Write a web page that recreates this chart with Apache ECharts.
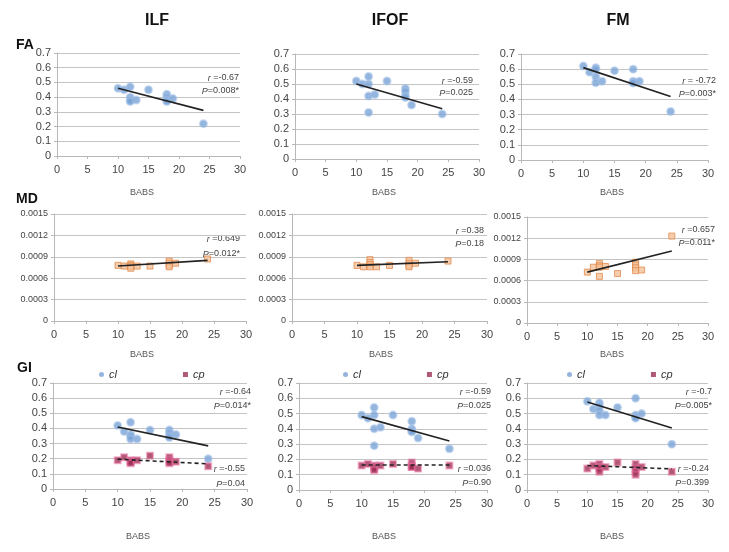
<!DOCTYPE html>
<html>
<head>
<meta charset="utf-8">
<script src="https://cdn.jsdelivr.net/npm/echarts@6/dist/echarts.min.js"></script>
<style>
  html, body { margin: 0; padding: 0; background: #fff; }
  #main { width: 729px; height: 552px; }
</style>
</head>
<body>
<div id="main"></div>
<script>
// BABS score of each subject (same order in every panel)
const babs = [10, 11, 12, 12, 12, 12, 13, 15, 18, 18, 18, 18, 19, 24];

// FA
const faILF  = [0.46, 0.45, 0.47, 0.40, 0.38, 0.37, 0.38, 0.45, 0.42, 0.40, 0.38, 0.37, 0.39, 0.22];
const faIFOF = [0.52, 0.50, 0.55, 0.50, 0.42, 0.31, 0.43, 0.52, 0.47, 0.45, 0.42, 0.41, 0.36, 0.30];
const faFM   = [0.62, 0.58, 0.61, 0.60, 0.55, 0.51, 0.52, 0.59, 0.60, 0.52, 0.51, 0.51, 0.52, 0.32];
// MD
const mdILF  = [0.00078, 0.00077, 0.00080, 0.00078, 0.00076, 0.00074, 0.00077, 0.00077, 0.00084, 0.00081, 0.00078, 0.00076, 0.00081, 0.00087];
const mdIFOF = [0.00078, 0.00076, 0.00086, 0.00082, 0.00079, 0.00076, 0.00076, 0.00078, 0.00085, 0.00081, 0.00078, 0.00076, 0.00081, 0.00084];
const mdFM   = [0.00072, 0.00079, 0.00084, 0.00081, 0.00079, 0.00066, 0.00080, 0.00070, 0.00086, 0.00082, 0.00078, 0.00074, 0.00075, 0.00123];
// GI (cl / cp)
const giILFcl  = [0.42, 0.38, 0.44, 0.36, 0.35, 0.33, 0.33, 0.39, 0.39, 0.37, 0.35, 0.34, 0.36, 0.20];
const giILFcp  = [0.19, 0.21, 0.19, 0.18, 0.18, 0.17, 0.19, 0.22, 0.21, 0.19, 0.18, 0.17, 0.18, 0.15];
const giIFOFcl = [0.49, 0.47, 0.54, 0.49, 0.40, 0.29, 0.41, 0.49, 0.45, 0.40, 0.39, 0.38, 0.34, 0.27];
const giIFOFcp = [0.16, 0.17, 0.16, 0.15, 0.14, 0.13, 0.16, 0.17, 0.18, 0.16, 0.15, 0.15, 0.14, 0.16];
const giFMcl   = [0.58, 0.53, 0.57, 0.55, 0.52, 0.49, 0.49, 0.54, 0.60, 0.49, 0.48, 0.47, 0.50, 0.30];
const giFMcp   = [0.14, 0.16, 0.17, 0.15, 0.14, 0.12, 0.15, 0.18, 0.17, 0.14, 0.12, 0.10, 0.15, 0.12];

// trend lines, [[x0, y0], [x1, y1]]
const fitFaILF  = [[10, 0.46], [24, 0.31]];
const fitFaIFOF = [[10, 0.50], [24, 0.335]];
const fitFaFM   = [[10, 0.61], [24, 0.42]];
const fitMdILF  = [[10, 0.00077], [24, 0.00085]];
const fitMdIFOF = [[10, 0.00078], [24, 0.00083]];
const fitMdFM   = [[10, 0.00072], [24, 0.00102]];
const fitGiILFcl  = [[10, 0.41], [24, 0.285]];
const fitGiILFcp  = [[10, 0.197], [24, 0.166]];
const fitGiIFOFcl = [[10, 0.48], [24, 0.32]];
const fitGiIFOFcp = [[10, 0.164], [24, 0.164]];
const fitGiFMcl   = [[10, 0.575], [24, 0.405]];
const fitGiFMcp   = [[10, 0.16], [24, 0.138]];

// r / P annotations
const statsFA = [['-0.67', '0.008*'], ['-0.59', '0.025'], [' -0.72', '0.003*']];
const statsMD = [['0.649', '0.012*'], ['0.38', '0.18'], ['0.657', '0.011*']];
const statsGIcl = [['-0.64', '0.014*'], ['-0.59', '0.025'], ['-0.7', '0.005*']];
const statsGIcp = [['-0.55', '0.04'], ['0.036', '0.90'], ['-0.24', '0.399']];

const colHeads = ['ILF', 'IFOF', 'FM'];
const rowHeads = ['FA', 'MD', 'GI'];

const chart = echarts.init(document.getElementById('main'));

const FONT = 'Liberation Sans';
const styleCl = { symbol: 'circle', symbolSize: 7, itemStyle: { color: '#78a3d6', borderColor: 'rgba(160,190,230,0.7)', borderWidth: 2 } };
const styleMd = { symbol: 'rect', symbolSize: 6, itemStyle: { color: '#f3c29c', borderColor: '#e48b4c', borderWidth: 1 } };
const styleCp = { symbol: 'rect', symbolSize: 6, itemStyle: { color: '#9c2f52', borderColor: 'rgba(230,110,160,0.65)', borderWidth: 2 } };

function zip(ys) { return babs.map((x, i) => [x, ys[i]]); }

function fmtY(v) { return v === 0 ? '0' : String(+v.toFixed(4)); }

const grids = [], xAxes = [], yAxes = [], series = [], graphics = [];

// plot boxes: left, top, right, bottom (px)
const boxes = [
  [57, 53, 240, 156], [295, 54, 479, 159], [521, 54, 708, 160],
  [54, 214, 246, 321], [292, 214, 487, 321], [527, 217, 708, 323],
  [53, 383, 247, 489], [299, 383, 487, 490], [527, 383, 708, 490]
];

function addPanel(idx, yMax, yInt, groups) {
  const b = boxes[idx];
  grids.push({ left: b[0], top: b[1], width: b[2] - b[0], height: b[3] - b[1], containLabel: false });
  xAxes.push({
    gridIndex: idx, type: 'value', min: 0, max: 30, interval: 5,
    axisLine: { lineStyle: { color: '#b8b8b8' } },
    axisTick: { show: true, length: 3, lineStyle: { color: '#b8b8b8' } },
    splitLine: { show: false },
    axisLabel: { color: '#444', fontFamily: FONT, fontSize: 11, margin: 8 }
  });
  yAxes.push({
    gridIndex: idx, type: 'value', min: 0, max: yMax, interval: yInt,
    axisLine: { show: true, lineStyle: { color: '#b8b8b8' } },
    axisTick: { show: true, length: 3, lineStyle: { color: '#b8b8b8' } },
    splitLine: { show: true, lineStyle: { color: '#c4c4c4', width: 1 } },
    axisLabel: { color: '#444', fontFamily: FONT, fontSize: yMax < 0.01 ? 9 : 11, margin: 6, formatter: fmtY }
  });
  groups.forEach(g => {
    series.push(Object.assign({
      type: 'scatter', name: g.name, xAxisIndex: idx, yAxisIndex: idx, data: zip(g.ys), z: 3
    }, g.style));
    series.push({
      type: 'line', xAxisIndex: idx, yAxisIndex: idx, data: g.fit, showSymbol: false, symbol: 'none',
      lineStyle: { color: '#222', width: 1.6, type: g.dashed ? [4, 3] : 'solid' }, z: 4, silent: true
    });
  });
}

addPanel(0, 0.7, 0.1, [{ name: 'fa', ys: faILF, fit: fitFaILF, style: styleCl }]);
addPanel(1, 0.7, 0.1, [{ name: 'fa', ys: faIFOF, fit: fitFaIFOF, style: styleCl }]);
addPanel(2, 0.7, 0.1, [{ name: 'fa', ys: faFM, fit: fitFaFM, style: styleCl }]);
addPanel(3, 0.0015, 0.0003, [{ name: 'md', ys: mdILF, fit: fitMdILF, style: styleMd }]);
addPanel(4, 0.0015, 0.0003, [{ name: 'md', ys: mdIFOF, fit: fitMdIFOF, style: styleMd }]);
addPanel(5, 0.0015, 0.0003, [{ name: 'md', ys: mdFM, fit: fitMdFM, style: styleMd }]);
addPanel(6, 0.7, 0.1, [
  { name: 'cl', ys: giILFcl, fit: fitGiILFcl, style: styleCl },
  { name: 'cp', ys: giILFcp, fit: fitGiILFcp, style: styleCp, dashed: true }]);
addPanel(7, 0.7, 0.1, [
  { name: 'cl', ys: giIFOFcl, fit: fitGiIFOFcl, style: styleCl },
  { name: 'cp', ys: giIFOFcp, fit: fitGiIFOFcp, style: styleCp, dashed: true }]);
addPanel(8, 0.7, 0.1, [
  { name: 'cl', ys: giFMcl, fit: fitGiFMcl, style: styleCl },
  { name: 'cp', ys: giFMcp, fit: fitGiFMcp, style: styleCp, dashed: true }]);

function txt(x, y, text, opts) {
  graphics.push({
    type: 'text', x: x, y: y, silent: true,
    style: Object.assign({
      text: text, fill: '#444', font: '9px ' + FONT, align: 'right', verticalAlign: 'middle',
      rich: { i: { fontStyle: 'italic', fontSize: 9, fontFamily: FONT, fill: '#444' } }
    }, opts || {})
  });
}
function stat(x, yr, yp, s) {
  txt(x, yr, '{i|r} =' + s[0]);
  txt(x, yp, '{i|P}=' + s[1]);
}

// column headers and row labels
[157, 390, 618].forEach((x, i) => txt(x, 21, colHeads[i], { font: 'bold 16px ' + FONT, fill: '#111', align: 'center' }));
[[16, 45], [16, 199], [17, 368]].forEach((p, i) => txt(p[0], p[1], rowHeads[i], { font: 'bold 14px ' + FONT, fill: '#111', align: 'left' }));

// BABS axis names
[[142, 193], [384, 193], [612, 193], [142, 355], [381, 355], [612, 355], [138, 537], [384, 537], [612, 537]]
  .forEach(p => txt(p[0], p[1], 'BABS', { font: '9px ' + FONT, fill: '#555', align: 'center' }));

stat(239, 78, 91, statsFA[0]);
stat(473, 81, 93, statsFA[1]);
stat(716, 81, 94, statsFA[2]);
stat(240, 239, 254, statsMD[0]);
stat(484, 231, 244, statsMD[1]);
stat(715, 230, 243, statsMD[2]);
stat(251, 392, 406, statsGIcl[0]);
stat(491, 392, 406, statsGIcl[1]);
stat(712, 392, 406, statsGIcl[2]);
stat(245, 469, 484, statsGIcp[0]);
stat(491, 469, 483, statsGIcp[1]);
stat(709, 469, 483, statsGIcp[2]);

const legends = [[99, 375], [343, 375], [567, 375]].map(p => ({
  left: p[0], top: p[1] - 6, itemGap: 66, itemWidth: 5, itemHeight: 5,
  data: [
    { name: 'cl', icon: 'circle', itemStyle: { color: '#78a3d6', borderWidth: 0 } },
    { name: 'cp', icon: 'rect', itemStyle: { color: '#9c2f52', borderWidth: 0 } }
  ],
  textStyle: { fontStyle: 'italic', fontSize: 11, fontFamily: FONT, color: '#333' },
  padding: 0, selectedMode: false
}));

chart.setOption({
  backgroundColor: '#fff',
  animation: false,
  grid: grids,
  xAxis: xAxes,
  yAxis: yAxes,
  legend: legends,
  series: series,
  graphic: graphics
});
</script>
</body>
</html>
